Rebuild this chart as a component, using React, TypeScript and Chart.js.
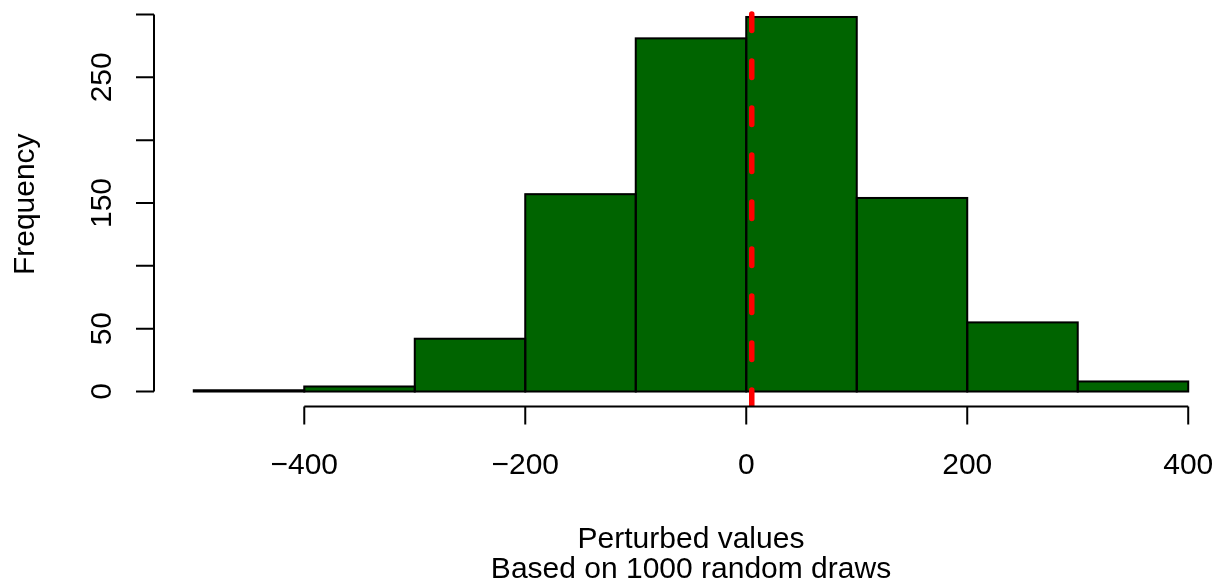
import React, { useEffect, useRef } from "react";
import { Chart, registerables } from "chart.js";

Chart.register(...registerables);

// ---- data ----
const binEdges = [-500, -400, -300, -200, -100, 0, 100, 200, 300, 400];
const counts = [1, 4, 42, 157, 281, 298, 154, 55, 8];
const meanValue = 5;
const xTicks = [-400, -200, 0, 200, 400];
const xTickLabels = ["\u2212400", "\u2212200", "0", "200", "400"];
const yTicks = [0, 50, 100, 150, 200, 250, 300];
const yLabelValues = [0, 50, 150, 250];
const xTitle = "Perturbed values";
const subTitle = "Based on 1000 random draws";
const yTitle = "Frequency";

const FONT = '30px "Liberation Sans", Arial, Helvetica, sans-serif';

const rPlot = {
  id: "rPlot",
  afterDatasetsDraw(chart: any) {
    const ctx = chart.ctx;
    const meta = chart.getDatasetMeta(0);
    ctx.save();
    ctx.strokeStyle = "#000";
    ctx.lineWidth = 2;
    meta.data.forEach((el: any) => {
      const p = el.getProps(["x", "y", "base", "width"], true);
      ctx.strokeRect(p.x - p.width / 2, p.y, p.width, p.base - p.y);
    });
    ctx.restore();

    // mean line
    const { left, right, top, bottom } = chart.chartArea;
    const xs = chart.scales.x;
    const mx = xs.getPixelForValue(meanValue);
    ctx.save();
    ctx.beginPath();
    ctx.rect(left, top, right - left, bottom - top);
    ctx.clip();
    ctx.strokeStyle = "#FF0000";
    ctx.lineWidth = 5.5;
    ctx.lineCap = "round";
    ctx.setLineDash([16.5, 30.5]);
    ctx.beginPath();
    ctx.moveTo(mx, bottom);
    ctx.lineTo(mx, top);
    ctx.stroke();
    ctx.restore();
  },
  afterDraw(chart: any) {
    const ctx = chart.ctx;
    const { left, right, top, bottom } = chart.chartArea;
    const xs = chart.scales.x;
    const ys = chart.scales.y;
    ctx.save();
    ctx.strokeStyle = "#000";
    ctx.fillStyle = "#000";
    ctx.lineWidth = 2;
    ctx.font = FONT;

    // y axis
    const yA = ys.getPixelForValue(yTicks[0]);
    const yB = ys.getPixelForValue(yTicks[yTicks.length - 1]);
    ctx.beginPath();
    ctx.moveTo(left, yA);
    ctx.lineTo(left, yB);
    yTicks.forEach((v) => {
      const py = ys.getPixelForValue(v);
      ctx.moveTo(left, py);
      ctx.lineTo(left - 18, py);
    });
    ctx.stroke();
    yLabelValues.forEach((v) => {
      const py = ys.getPixelForValue(v);
      ctx.save();
      ctx.translate(left - 43.5, py);
      ctx.rotate(-Math.PI / 2);
      ctx.textAlign = "center";
      ctx.textBaseline = "alphabetic";
      ctx.fillText(String(v), 0, 0);
      ctx.restore();
    });

    // x axis
    const xA = xs.getPixelForValue(xTicks[0]);
    const xB = xs.getPixelForValue(xTicks[xTicks.length - 1]);
    ctx.beginPath();
    ctx.moveTo(xA, bottom);
    ctx.lineTo(xB, bottom);
    xTicks.forEach((v) => {
      const px = xs.getPixelForValue(v);
      ctx.moveTo(px, bottom);
      ctx.lineTo(px, bottom + 18);
    });
    ctx.stroke();
    ctx.textAlign = "center";
    ctx.textBaseline = "alphabetic";
    xTicks.forEach((v, i) => {
      const px = xs.getPixelForValue(v);
      ctx.fillText(xTickLabels[i], px, bottom + 67.5);
    });

    // titles
    const cx = (left + right) / 2;
    ctx.fillText(xTitle, cx, 548.3);
    ctx.fillText(subTitle, cx, 577.5);

    ctx.save();
    ctx.translate(33.5, (top + bottom) / 2);
    ctx.rotate(-Math.PI / 2);
    ctx.textAlign = "center";
    ctx.fillText(yTitle, 0, 0);
    ctx.restore();

    ctx.restore();
  },
};

export default function App() {
  const ref = useRef<HTMLCanvasElement | null>(null);
  useEffect(() => {
    if (!ref.current) return;
    const points = counts.map((c, i) => ({
      x: (binEdges[i] + binEdges[i + 1]) / 2,
      y: c,
    }));
    const xMin = binEdges[0];
    const xMax = binEdges[binEdges.length - 1];
    const xPad = (xMax - xMin) * 0.04;
    const yMax = Math.max(...counts);
    const yPad = yMax * 0.04;
    const chart = new Chart(ref.current, {
      type: "bar",
      data: {
        datasets: [
          {
            data: points as any,
            backgroundColor: "#006400",
            borderWidth: 0,
            barPercentage: 1,
            categoryPercentage: 1,
          },
        ],
      },
      options: {
        responsive: false,
        animation: false,
        events: [],
        layout: { padding: { left: 154, right: 0, top: 2, bottom: 181.5 } },
        plugins: {
          legend: { display: false },
          tooltip: { enabled: false },
          title: { display: false },
        },
        scales: {
          x: {
            type: "linear",
            offset: false,
            min: xMin - xPad,
            max: xMax + xPad,
            display: false,
            afterBuildTicks: (scale: any) => {
              scale.ticks = xTicks.map((v) => ({ value: v }));
            },
          },
          y: {
            type: "linear",
            min: -yPad,
            max: yMax + yPad,
            display: false,
          },
        },
      },
      plugins: [rPlot],
    });
    return () => chart.destroy();
  }, []);
  return (
    <div
      style={{
        position: "absolute",
        left: 0,
        top: 0,
        width: 1222,
        height: 588,
        overflow: "hidden",
        background: "#fff",
      }}
    >
      <canvas
        ref={ref}
        width={1228}
        height={588}
        style={{ display: "block", width: 1228, height: 588 }}
      />
    </div>
  );
}
